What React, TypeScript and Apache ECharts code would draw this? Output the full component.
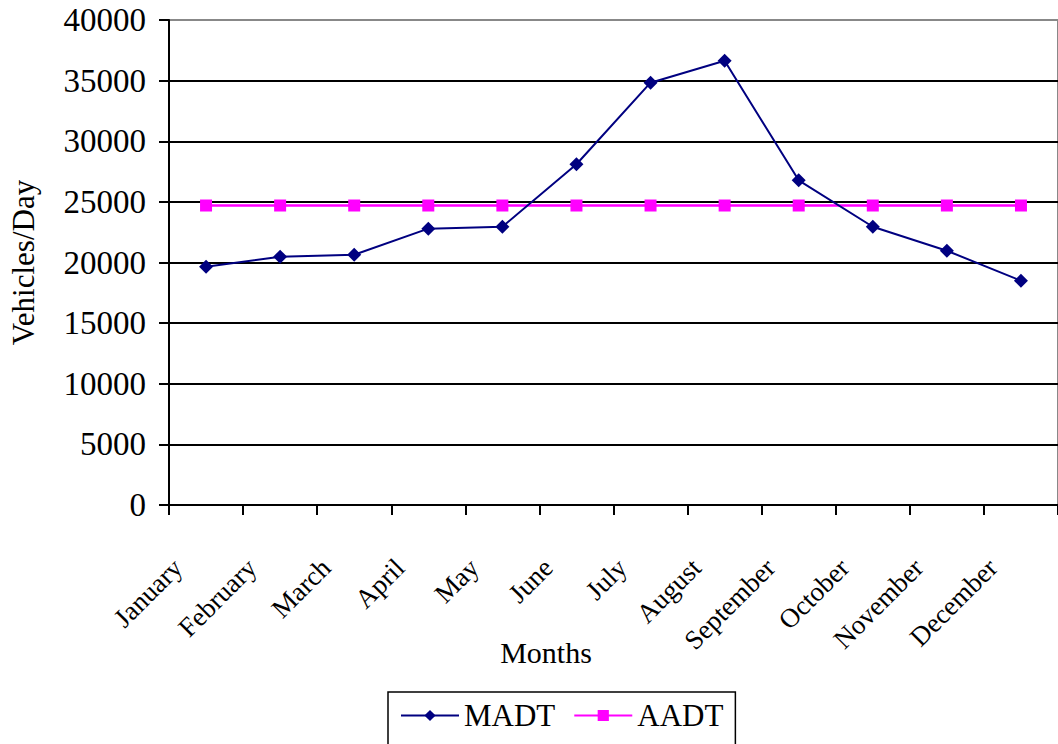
import React, { useEffect, useRef } from "react";
import * as echarts from "echarts";

const months = ["January", "February", "March", "April", "May", "June", "July", "August", "September", "October", "November", "December"];
const madt = [19650, 20480, 20640, 22790, 22950, 28100, 34830, 36640, 26780, 22950, 20970, 18500];
const aadt = [24700, 24700, 24700, 24700, 24700, 24700, 24700, 24700, 24700, 24700, 24700, 24700];
const yTicks = { min: 0, max: 40000, interval: 5000 };

const FONT = "'Liberation Serif', 'Times New Roman', serif";

export default function App() {
  const ref = useRef<HTMLDivElement>(null);
  useEffect(() => {
    if (!ref.current) return;
    const chart = echarts.init(ref.current, undefined, { renderer: "svg" });
    chart.setOption({
      animation: false,
      backgroundColor: "#ffffff",
      textStyle: { fontFamily: FONT, color: "#000" },
      grid: {
        left: 165,
        right: -6,
        top: 20,
        bottom: 239,
        containLabel: false,
        show: true,
        borderColor: "#888",
        borderWidth: 2,
        backgroundColor: "transparent",
      },
      legend: {
        top: 692,
        left: 388,
        itemGap: 18,
        itemWidth: 58,
        itemHeight: 14,
        padding: [8, 12, 14, 12],
        borderColor: "#000",
        borderWidth: 1.5,
        borderRadius: 0,
        textStyle: { fontFamily: FONT, fontSize: 31, color: "#000", padding: [0, 0, 0, 0] },
        data: ["MADT", "AADT"],
      },
      xAxis: {
        type: "category",
        data: months,
        boundaryGap: true,
        name: "Months",
        nameLocation: "middle",
        nameGap: 132,
        nameMoveOverlap: false,
        nameTextStyle: { fontFamily: FONT, fontSize: 30, color: "#000", padding: [0, 135, 0, 0] },
        axisLine: { lineStyle: { color: "#000", width: 2 } },
        axisTick: { show: true, length: 10, lineStyle: { color: "#000", width: 2 } },
        axisLabel: {
          rotate: 45,
          interval: 0,
          margin: 30,
          padding: [0, 40, 0, 0],
          fontFamily: FONT,
          fontSize: 27,
          color: "#000",
        },
      },
      yAxis: {
        type: "value",
        min: yTicks.min,
        max: yTicks.max,
        interval: yTicks.interval,
        name: "Vehicles/Day",
        nameLocation: "middle",
        nameGap: 130,
        nameMoveOverlap: false,
        nameTextStyle: { fontFamily: FONT, fontSize: 31, color: "#000" },
        axisLine: { show: true, lineStyle: { color: "#000", width: 2 } },
        axisTick: { show: true, length: 10, lineStyle: { color: "#000", width: 2 } },
        axisLabel: {
          margin: 23,
          fontFamily: FONT,
          fontSize: 33,
          color: "#000",
          formatter: (v: number) => String(v),
        },
        splitLine: {
          show: true,
          showMaxLine: false,
          lineStyle: { color: "#000", width: 2 },
        },
      },
      series: [
        {
          name: "MADT",
          type: "line",
          data: madt,
          symbol: "diamond",
          symbolSize: 14,
          itemStyle: { color: "#000080" },
          lineStyle: { color: "#000080", width: 2 },
          z: 3,
        },
        {
          name: "AADT",
          type: "line",
          data: aadt,
          symbol: "rect",
          symbolSize: 12,
          itemStyle: { color: "#ff00ff" },
          lineStyle: { color: "#ff00ff", width: 2.5 },
          z: 2,
        },
      ],
    });
    return () => chart.dispose();
  }, []);
  return <div ref={ref} style={{ width: 1058, height: 744, position: "absolute", left: 0, top: 0 }} />;
}
